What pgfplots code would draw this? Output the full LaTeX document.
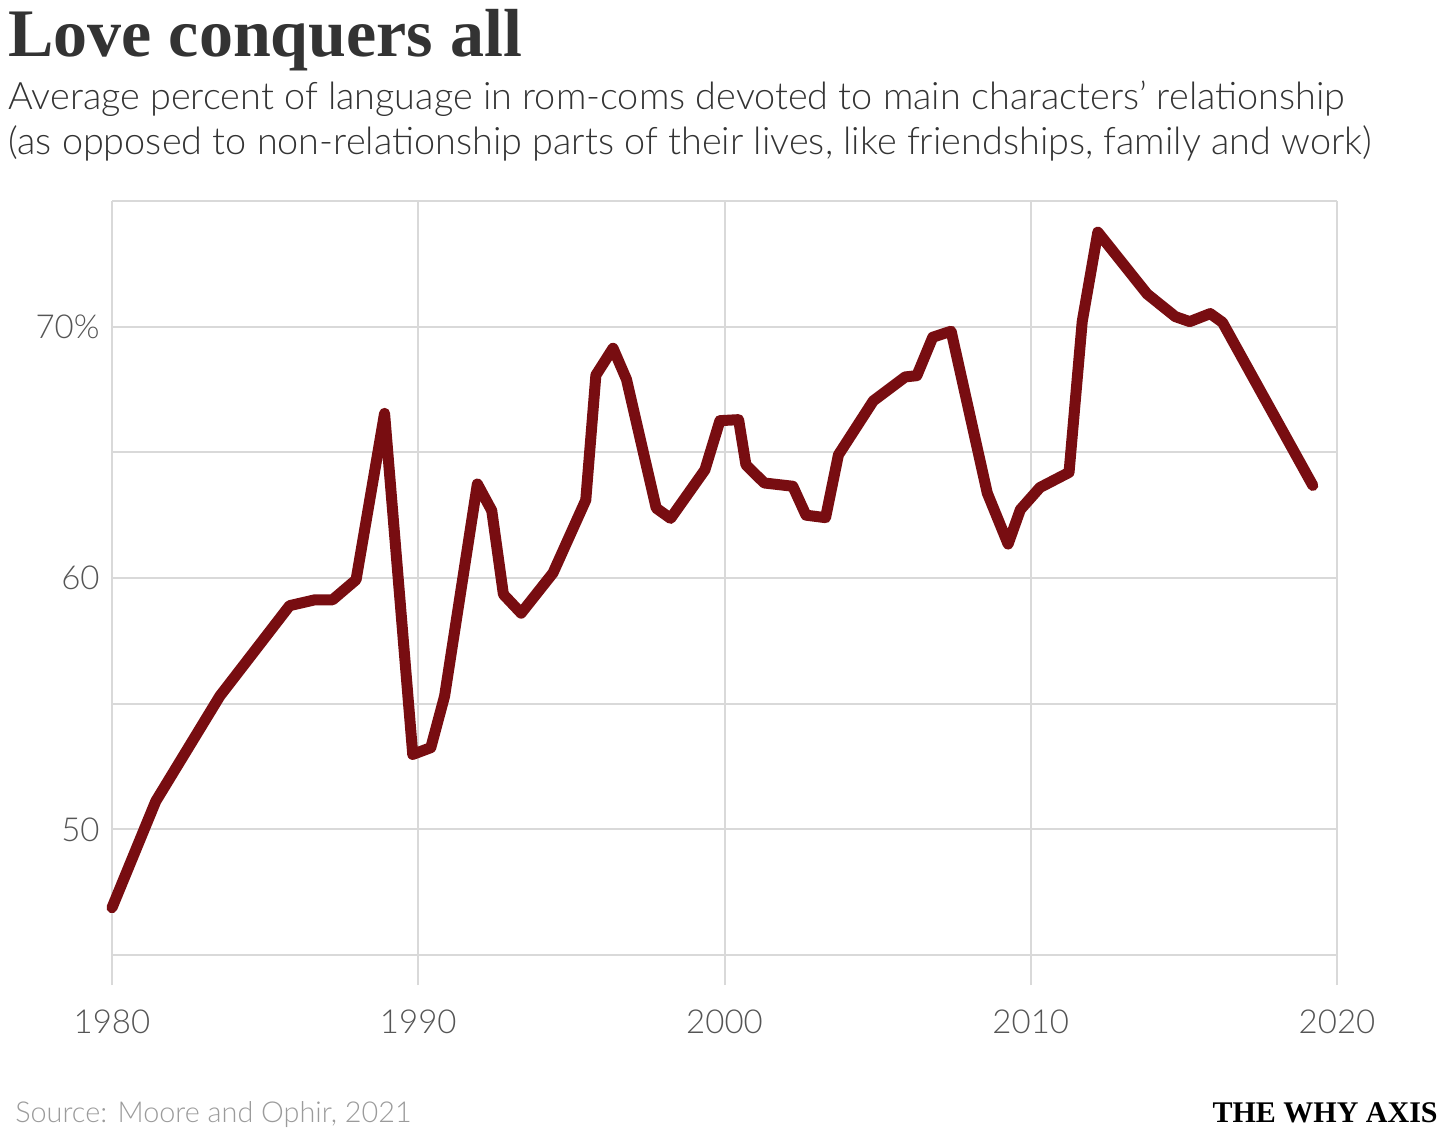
\documentclass[border=0pt]{standalone}
\usepackage{fontspec}
\setmainfont{Lato}[UprightFont={* Light}]
\newfontfamily\titlefont{Liberation Serif}[UprightFont={* Bold}]
\usepackage{pgfplots}
\pgfplotsset{compat=1.18}
\definecolor{linered}{RGB}{120,13,17}
\definecolor{gridgray}{RGB}{217,217,217}
\definecolor{txt}{RGB}{51,51,51}
\definecolor{ticktxt}{RGB}{85,85,85}
\definecolor{srcgray}{RGB}{155,155,155}
\begin{document}
\begin{tikzpicture}
\path[use as bounding box] (0,0) rectangle (728pt,568pt);
\node[anchor=base west, inner sep=0pt, text=txt, font=\titlefont\fontsize{34}{40}\selectfont] at (4pt,539.5pt) {Love conquers all};
\node[anchor=base west, inner sep=0pt, text=txt, font=\fontsize{18.9}{22}\selectfont] at (4pt,513pt) {Average percent of language in rom-coms devoted to main characters’ relationship};
\node[anchor=base west, inner sep=0pt, text=txt, font=\fontsize{18.9}{22}\selectfont] at (4pt,490.5pt) {(as opposed to non-relationship parts of their lives, like friendships, family and work)};
\node[anchor=base west, inner sep=0pt, text=srcgray, font=\fontsize{14.4}{17}\selectfont] at (7.5pt,7pt) {Source: Moore and Ophir, 2021};
\node[anchor=base east, inner sep=0pt, text=black, font=\titlefont\fontsize{15}{18}\selectfont] at (719pt,7pt) {THE WHY AXIS};
\begin{axis}[
  at={(56pt,75.5pt)}, anchor=south west,
  scale only axis, width=612.5pt, height=392pt,
  xmin=1980, xmax=2020, ymin=43.806, ymax=75,
  axis line style={draw=none},
  major tick length=0pt,
  xtick={1980,1990,2000,2010,2020},
  xticklabels={1980,1990,2000,2010,2020},
  ytick={45,50,55,60,65,70,75},
  yticklabels={,50,,60,,70\%,},
  grid=major,
  major grid style={gridgray, line width=1pt},
  /pgf/number format/assume math mode=true,
  ticklabel style={font=\fontsize{16.5}{19}\selectfont, text=ticktxt},
  xticklabel style={anchor=center, inner sep=0pt, yshift=-18.5pt},
  yticklabel style={anchor=east, inner sep=0pt, xshift=-6pt},
  clip=false,
]
\addplot[linered, line width=5.5pt, line join=round, line cap=round] coordinates {
(1980.0,46.88) (1981.43,51.12) (1983.52,55.3) (1985.8,58.9) (1986.62,59.13)
(1987.2,59.13) (1987.97,59.93) (1988.9,66.55) (1989.82,52.98) (1990.41,53.25)
(1990.86,55.3) (1991.93,63.74) (1992.4,62.68) (1992.78,59.35) (1993.36,58.6)
(1994.4,60.2) (1995.47,63.1) (1995.8,68.07) (1996.36,69.14) (1996.8,67.9)
(1997.77,62.78) (1998.24,62.37) (1999.36,64.3) (1999.85,66.26) (2000.46,66.3)
(2000.7,64.5) (2001.3,63.78) (2002.23,63.65) (2002.66,62.5) (2003.3,62.4)
(2003.72,64.9) (2004.86,67.05) (2005.9,68.0) (2006.28,68.05) (2006.8,69.58)
(2007.4,69.82) (2008.58,63.38) (2009.26,61.35) (2009.66,62.72) (2010.3,63.6)
(2011.25,64.2) (2011.68,70.2) (2012.19,73.76) (2013.8,71.3) (2014.72,70.4)
(2015.19,70.2) (2015.86,70.52) (2016.26,70.17) (2019.21,63.68)
};
\end{axis}
\end{tikzpicture}
\end{document}
